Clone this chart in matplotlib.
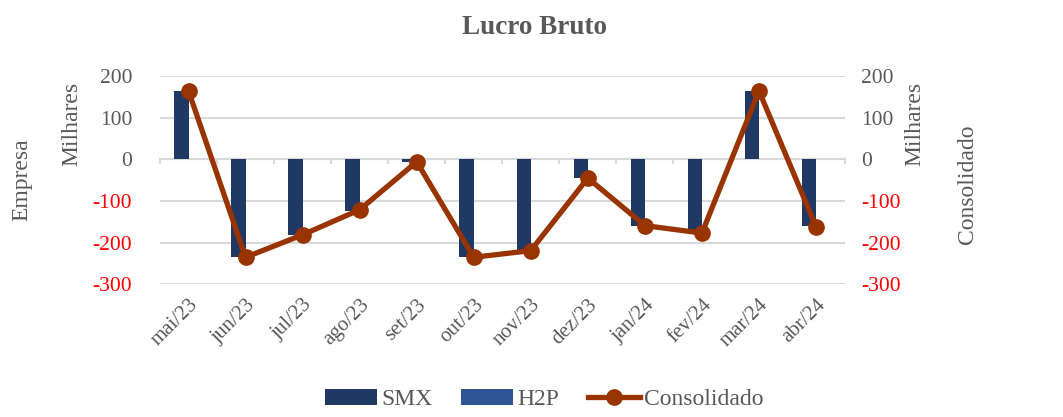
import numpy as np
import matplotlib.pyplot as plt

meses = ["mai/23", "jun/23", "jul/23", "ago/23", "set/23", "out/23",
         "nov/23", "dez/23", "jan/24", "fev/24", "mar/24", "abr/24"]
smx = [163, -234, -181, -123, -7, -234, -219, -45, -159, -175, 163, -161]
h2p = [0, 0, 0, 0, 0, 0, 0, 0, 0, 0, 0, 0]
consolidado = [164, -235, -181, -121, -6, -235, -219, -45, -159, -177, 164, -162]

plt.rcParams['font.family'] = ['Liberation Serif', 'DejaVu Serif']
cinza = "#595959"

fig = plt.figure(figsize=(10.63, 4.17), dpi=100)
ax = fig.add_axes([0.1505, 0.318, 0.644, 0.5])
ax2 = ax.twinx()

x = np.arange(len(meses))
w = 0.25
b1 = ax.bar(x - w / 2, smx, w, color="#203864", label="SMX", zorder=3)
b2 = ax.bar(x + w / 2, h2p, w, color="#2f5597", label="H2P", zorder=3)
ln, = ax.plot(x, consolidado, color="#993300", lw=3.8, marker="o", ms=11,
              label="Consolidado", zorder=4)

ticks = list(range(-300, 201, 100))
for a in (ax, ax2):
    a.set_ylim(-300, 200)
    a.set_yticks(ticks)
    a.set_yticklabels([str(v) for v in ticks])
    a.set_xlim(-0.5, len(meses) - 0.5)
    for s in a.spines.values():
        s.set_visible(False)
    a.tick_params(axis="y", length=0, labelsize=15.5)
    for lbl, v in zip(a.get_yticklabels(), ticks):
        lbl.set_color("red" if v < 0 else cinza)
ax.tick_params(axis="y", pad=20)
ax2.tick_params(axis="y", pad=12)

ax.grid(axis="y", color="#d9d9d9", lw=1.5, zorder=0)
ax.set_axisbelow(True)
ax.axhline(0, color="#d9d9d9", lw=1.5, zorder=1)
# marcas no eixo zero entre categorias
for xb in np.arange(-0.5, len(meses), 1):
    ax.plot([xb, xb], [0, -10], color="#d9d9d9", lw=1.5, zorder=1, clip_on=False)

ax.set_xticks(x)
ax.set_xticklabels(meses, rotation=45, ha="right", rotation_mode="anchor",
                   color=cinza, fontsize=15)
ax.tick_params(axis="x", length=0, pad=8)

fig.text(0.011, 0.568, "Empresa", rotation=90, ha="left", va="center",
         color=cinza, fontsize=17)
fig.text(0.058, 0.703, "Milhares", rotation=90, ha="left", va="center",
         color=cinza, fontsize=17)
fig.text(0.851, 0.703, "Milhares", rotation=90, ha="left", va="center",
         color=cinza, fontsize=17)
fig.text(0.9, 0.557, "Consolidado", rotation=90, ha="left", va="center",
         color=cinza, fontsize=17)

fig.suptitle("Lucro Bruto", x=0.503, y=0.965, fontsize=19.5, fontweight="bold",
             color=cinza)

leg = fig.legend([b1, b2, ln], ["SMX", "H2P", "Consolidado"],
                 loc="lower center", bbox_to_anchor=(0.512, -0.035),
                 ncol=3, frameon=False, fontsize=17, handlelength=2.2,
                 handletextpad=0.2, columnspacing=1.2)
for t in leg.get_texts():
    t.set_color(cinza)

fig.savefig("out.png", dpi=100)
